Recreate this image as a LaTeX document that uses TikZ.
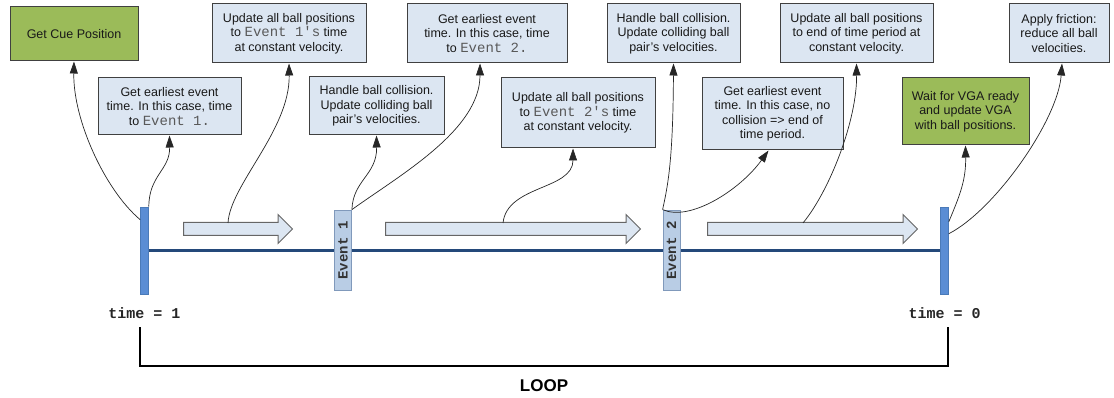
\documentclass[tikz,border=0pt]{standalone}
\usepackage{fontspec}
\setmainfont{Liberation Sans}
\newfontfamily\codefont{Liberation Mono}
\usetikzlibrary{calc,arrows.meta,shapes.arrows,backgrounds}

\definecolor{boxfill}{HTML}{DCE6F2}
\definecolor{boxline}{HTML}{404040}
\definecolor{greenfill}{HTML}{9BBB59}
\definecolor{barfill}{HTML}{5A8DD4}
\definecolor{barline}{HTML}{4A7AB8}
\definecolor{evfill}{HTML}{B9CDE5}
\definecolor{evline}{HTML}{8099BB}
\definecolor{axisblue}{HTML}{24497A}

% inline event names inside the step boxes
\newcommand{\evname}[1]{{\codefont\fontsize{14}{14.5}\selectfont\color{black!65}#1}}

\begin{document}
\begin{tikzpicture}[x=1pt,y=-1pt,
  note/.style={draw=boxline, line width=1pt, fill=boxfill, inner sep=0pt,
    align=center, font=\fontsize{12.5}{14.5}\selectfont, text=black!90},
  greennote/.style={note, fill=greenfill},
  bar/.style={draw=barline, fill=barfill, line width=0.6pt,
    minimum width=8pt, minimum height=87pt, inner sep=0pt},
  eventbox/.style={draw=evline, fill=evfill, line width=0.8pt, rotate=90,
    minimum width=80pt, minimum height=17pt, inner sep=0pt,
    font=\codefont\bfseries\fontsize{14}{14}\selectfont, text=black!80},
  flow/.style={single arrow, draw=black!60, fill=boxfill, line width=1pt,
    inner xsep=0pt, inner ysep=6pt, minimum width=28pt,
    single arrow head extend=8pt, anchor=tail},
  link/.style={draw=black!85, line width=0.7pt,
    -{Triangle[length=12pt,width=8pt]}},
  stamp/.style={font=\codefont\bfseries\fontsize{15}{15}\selectfont, text=black!85},
  bracket/.style={draw=black, line width=2.6pt},
]
\useasboundingbox (0,0) rectangle (1114,398);

% text boxes above the time line
\node[greennote, minimum width=128pt, minimum height=54pt] (cue) at (74,34)
  {Get Cue Position};
\node[note, minimum width=143pt, minimum height=57pt] (find1) at (169.5,106.5)
  {Get earliest event\\time. In this case, time\\to \evname{Event 1.}};
\node[note, minimum width=154pt, minimum height=59pt] (upd1) at (289,33.5)
  {Update all ball positions\\to \evname{Event 1\textquotesingle s} time\\at constant velocity.};
\node[note, minimum width=135pt, minimum height=58pt] (coll1) at (376.5,106)
  {Handle ball collision.\\Update colliding ball\\pair's velocities.};
\node[note, minimum width=160pt, minimum height=59pt] (find2) at (487,33.5)
  {Get earliest event\\time. In this case, time\\to \evname{Event 2.}};
\node[note, minimum width=154pt, minimum height=70pt] (upd2) at (578,113)
  {Update all ball positions\\to \evname{Event 2\textquotesingle s} time\\at constant velocity.};
\node[note, minimum width=133pt, minimum height=59pt] (coll2) at (673.5,33.5)
  {Handle ball collision.\\Update colliding ball\\pair's velocities.};
\node[note, minimum width=141pt, minimum height=72pt] (find3) at (772.5,114)
  {Get earliest event\\time. In this case, no\\collision => end of\\time period.};
\node[note, minimum width=153pt, minimum height=59pt] (upd3) at (856.5,33.5)
  {Update all ball positions\\to end of time period at\\constant velocity.};
\node[greennote, minimum width=127pt, minimum height=67pt] (vga) at (965.5,111.5)
  {Wait for VGA ready\\and update VGA\\with ball positions.};
\node[note, minimum width=100pt, minimum height=59pt] (fric) at (1059,33.5)
  {Apply friction:\\reduce all ball\\velocities.};

% time line with its end bars and event markers
\node[bar] (bar0) at (144.5,250.5) {};
\node[bar] (bar1) at (944.5,250.5) {};
\node[eventbox] (ev1) at (343,250) {Event 1};
\node[eventbox] (ev2) at (671.5,250) {Event 2};
\begin{pgfonlayer}{background}
  \draw[axisblue, line width=2.4pt] (bar0.center) -- (bar1.center);
\end{pgfonlayer}

% direction arrows between the markers
\node[flow, minimum height=109pt] (flow1) at (183,229) {};
\node[flow, minimum height=255pt] (flow2) at (385,229) {};
\node[flow, minimum height=210pt] (flow3) at (707,229) {};

% links from the time line to the steps
\draw[link] ($(bar0.north west)+(0,13)$) .. controls (105,190) and (73,120) .. (cue.south);
\draw[link] (bar0.north east) .. controls (149,175) and (170,170) .. (find1.south);
\draw[link] ($(flow1.tail)+(45,-6)$) .. controls (230,185) and (290,130) .. (upd1.south);
\draw[link] (ev1.south east) .. controls (353,180) and (377,175) .. (coll1.south);
\draw[link] (ev1.south east) .. controls (400,175) and (480,130) .. ($(find2.south)+(-7,0)$);
\draw[link] ($(flow2.tail)+(118,-6)$) .. controls (507,185) and (573,190) .. ($(upd2.south)+(-5,0)$);
\draw[link] (ev2.north east) .. controls (668,185) and (673,160) .. (coll2.south);
\draw[link] (ev2.north east) .. controls (690,222) and (740,190) .. ($(find3.south)+(-4,0)$);
\draw[link] ($(flow3.tail)+(96,-6)$) .. controls (830,190) and (857,120) .. (upd3.south);
\draw[link] ($(bar1.north east)+(0,15)$) .. controls (960,195) and (966,180) .. (vga.south);
\draw[link] ($(bar1.north east)+(0,27)$) .. controls (995,210) and (1058,120) .. ($(fric.south)+(3,0)$);

% time stamps and loop bracket
\node[stamp] (t1) at ($(bar0.south)+(0,19)$) {time = 1};
\node[stamp] (t0) at ($(bar1.south)+(0,19)$) {time = 0};
\draw[bracket] (140,327) |- (948,366) -- (948,327);
\node[font=\bfseries\fontsize{17}{17}\selectfont] (loop) at (544,386) {LOOP};
\end{tikzpicture}
\end{document}
